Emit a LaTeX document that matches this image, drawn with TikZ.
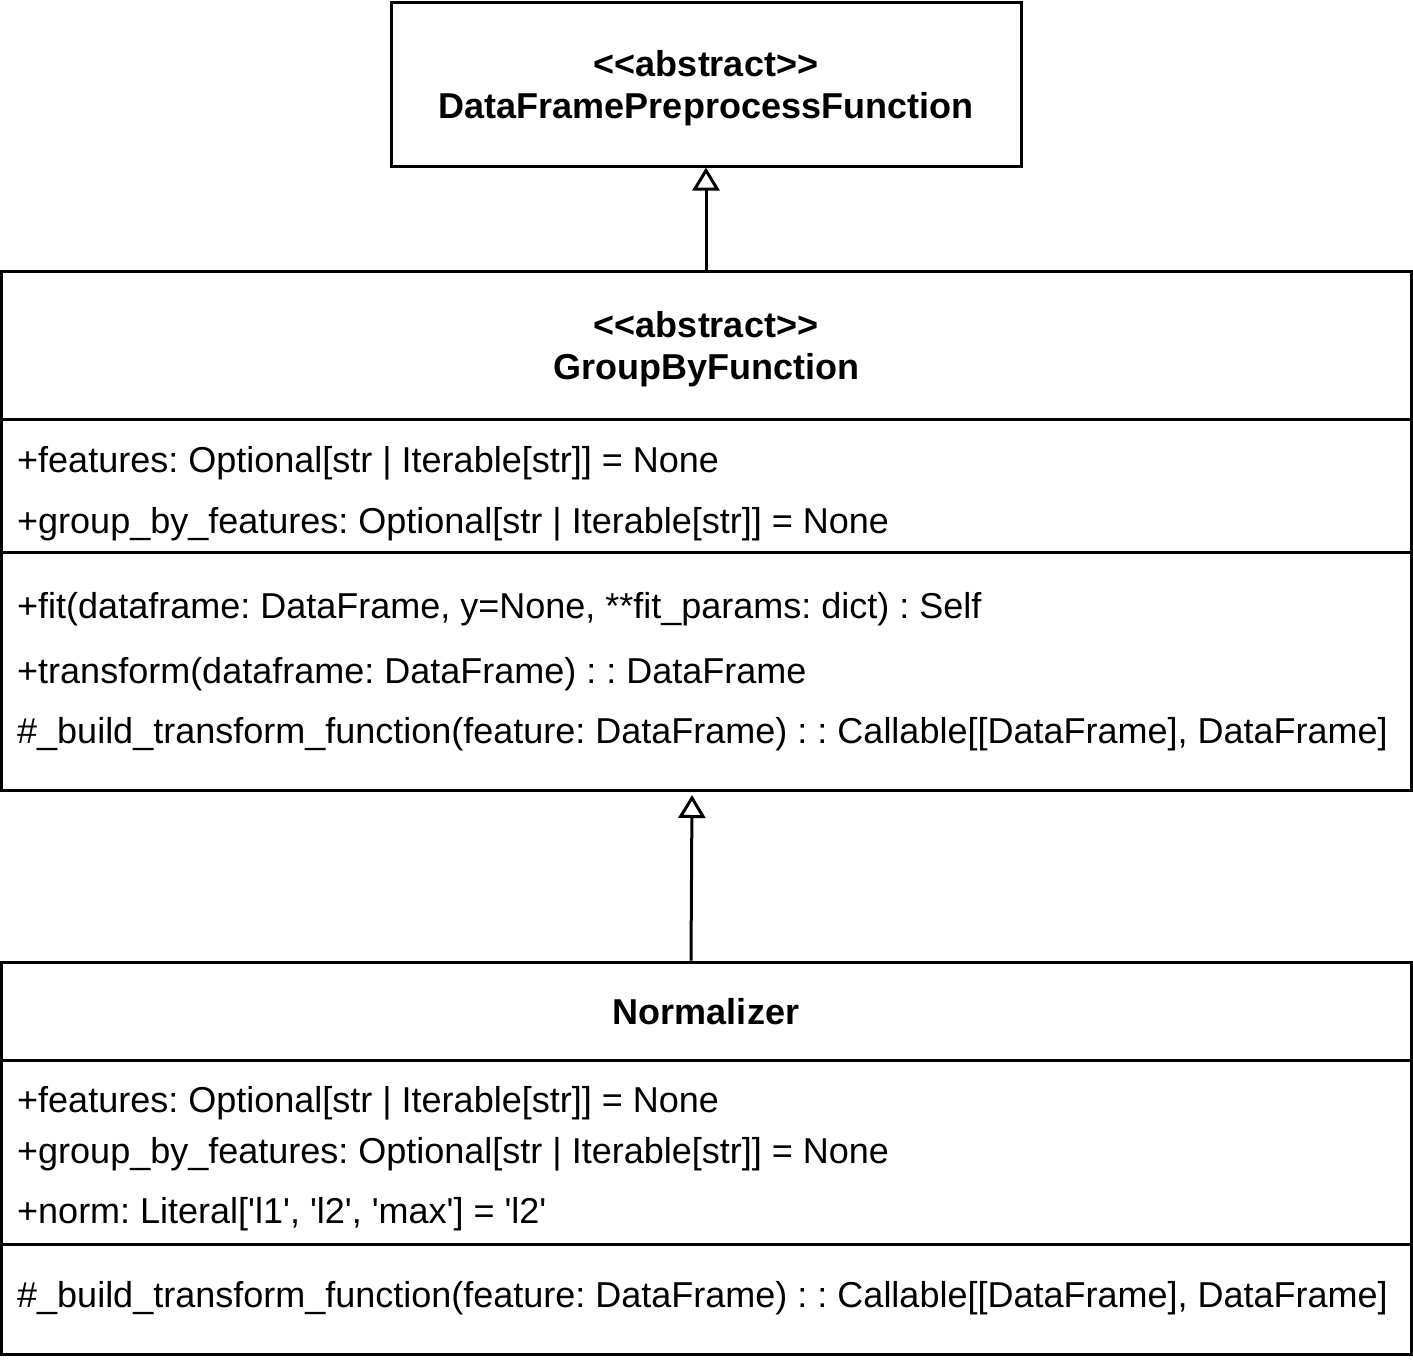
\documentclass[tikz,border=0pt]{standalone}
\usepackage{fontspec}
\setmainfont{Liberation Sans}[Ligatures=TeXOff]
\usetikzlibrary{arrows.meta}
\begin{document}
\frenchspacing
\begin{tikzpicture}[x=1pt,y=-1pt,
  box/.style={draw=black,line width=3pt,fill=white,inner sep=0pt,rectangle},
  sep/.style={draw=black,line width=3pt},
  attr/.style={anchor=base west,inner sep=0pt,font=\fontsize{36}{42}\selectfont},
  title/.style={anchor=base,inner sep=0pt,font=\fontsize{36}{42}\selectfont\bfseries},
  inherit/.style={draw=black,line width=3pt,-{Triangle[open,length=23pt,width=27pt,line width=3pt,fill=white]}}]
\useasboundingbox (0,0) rectangle (1413,1365);
% boxes
\node[box,minimum width=630pt,minimum height=164pt] (top) at (706,84) {};
\node[box,minimum width=1410pt,minimum height=519pt] (mid) at (706,530.5) {};
\node[box,minimum width=1410pt,minimum height=392pt] (bot) at (706,1158) {};
% dividers
\draw[sep] (mid.west |- 0,419) -- (mid.east |- 0,419);
\draw[sep] (mid.west |- 0,552) -- (mid.east |- 0,552);
\draw[sep] (bot.west |- 0,1060) -- (bot.east |- 0,1060);
\draw[sep] (bot.west |- 0,1244) -- (bot.east |- 0,1244);
% top texts
\node[title] (t1) at (706,76) {<<abstract>>};
\node[title] (t2) at (706,118) {DataFramePreprocessFunction};
% mid texts
\node[title] (m1) at (706,337) {<<abstract>>};
\node[title] (m2) at (706,379) {GroupByFunction};
\node[attr] (ma1) at (17,472) {+features: Optional[str | Iterable[str]] = None};
\node[attr] (ma2) at (17,533) {+group\_by\_features: Optional[str | Iterable[str]] = None};
\node[attr] (mm1) at (17,618) {+fit(dataframe: DataFrame, y=None, **fit\_params: dict) : Self};
\node[attr] (mm2) at (17,683) {+transform(dataframe: DataFrame) : : DataFrame};
\node[attr] (mm3) at (17,743) {\#\_build\_transform\_function(feature: DataFrame) : : Callable[[DataFrame], DataFrame]};
% bottom texts
\node[title] (b1) at (706,1024) {Normalizer};
\node[attr] (ba1) at (17,1112) {+features: Optional[str | Iterable[str]] = None};
\node[attr] (ba2) at (17,1163) {+group\_by\_features: Optional[str | Iterable[str]] = None};
\node[attr] (ba3) at (17,1223) {+norm: Literal['l1', 'l2', 'max'] = 'l2'};
\node[attr] (bm1) at (17,1307) {\#\_build\_transform\_function(feature: DataFrame) : : Callable[[DataFrame], DataFrame]};
% connectors
\draw[inherit] (mid.north) -- (top.south);
\coordinate (tip) at (692,795);
\draw[inherit] ([xshift=-15pt]bot.north) -- (tip);
\end{tikzpicture}
\end{document}
